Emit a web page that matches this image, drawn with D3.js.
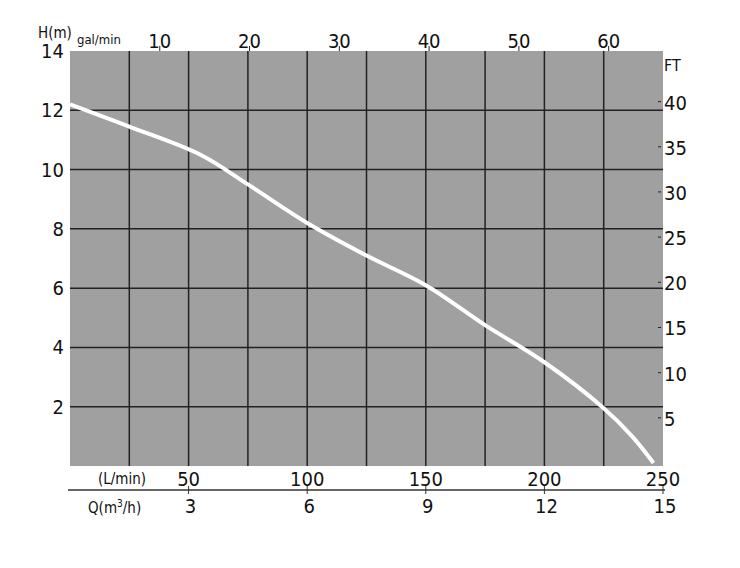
<!DOCTYPE html>
<html><head><meta charset="utf-8">
<script src="https://cdn.jsdelivr.net/npm/d3@7"></script>
<style>body{margin:0;background:#fff}text{font-family:"DejaVu Sans Condensed","DejaVu Sans",sans-serif;fill:#111}</style>
</head><body><svg width="740" height="568"></svg>
<script>
// curve: flow (L/min) vs head (m)
const flow = [0, 25, 55, 75, 100, 125, 150, 175, 200, 225, 237, 246];
const head = [12.2, 11.45, 10.5, 9.5, 8.2, 7.1, 6.1, 4.75, 3.5, 1.95, 1.0, 0.1];
const headTicks = [2, 4, 6, 8, 10, 12, 14];
const ftTicks = [5, 10, 15, 20, 25, 30, 35, 40];
const lminTicks = [50, 100, 150, 200, 250];
const galTicks = [10, 20, 30, 40, 50, 60];
const m3hTicks = [3, 6, 9, 12, 15];

const svg = d3.select('svg');
const x = d3.scaleLinear().domain([0, 250]).range([70, 663]);
const y = d3.scaleLinear().domain([0, 14]).range([466, 51]);

svg.append('rect').attr('x', x(0)).attr('y', y(14))
  .attr('width', x(250) - x(0)).attr('height', y(0) - y(14)).attr('fill', '#a0a0a0');

const g = svg.append('g').attr('stroke', '#222').attr('stroke-width', 1.5);
d3.range(25, 250, 25).forEach(v => g.append('line')
  .attr('x1', x(v)).attr('x2', x(v)).attr('y1', y(14)).attr('y2', y(0)));
headTicks.slice(0, -1).forEach(v => g.append('line')
  .attr('x1', x(0)).attr('x2', x(250)).attr('y1', y(v)).attr('y2', y(v)));

svg.append('path').datum(flow.map((f, i) => [f, head[i]]))
  .attr('fill', 'none').attr('stroke', '#fff').attr('stroke-width', 4)
  .attr('d', d3.line().x(d => x(d[0])).y(d => y(d[1])).curve(d3.curveCatmullRom.alpha(0.5)));

const fs = 20;
headTicks.forEach(v => svg.append('text').attr('x', 64).attr('y', y(v) + 7)
  .attr('text-anchor', 'end').attr('font-size', fs).text(v));
svg.append('text').attr('x', 38).attr('y', 38).attr('font-size', 15).text('H(m)');
svg.append('text').attr('x', 77).attr('y', 44).attr('font-size', 13).text('gal/min');

galTicks.forEach(v => {
  const px = x(v * 3.785);
  svg.append('text').attr('x', px).attr('y', 48).attr('text-anchor', 'middle').attr('font-size', fs).text(v);
  svg.append('line').attr('x1', px).attr('x2', px).attr('y1', 46).attr('y2', 51).attr('stroke', '#222');
});

svg.append('text').attr('x', 664).attr('y', 71).attr('font-size', 16).text('FT');
ftTicks.forEach(v => {
  const py = y(v * 0.3048);
  svg.append('line').attr('x1', 658).attr('x2', 661).attr('y1', py - 3).attr('y2', py - 3).attr('stroke', '#222');
  svg.append('text').attr('x', 664).attr('y', py + 5).attr('font-size', fs).text(v);
});

svg.append('text').attr('x', 122).attr('y', 484).attr('text-anchor', 'middle').attr('font-size', 15).text('(L/min)');
lminTicks.forEach(v => svg.append('text').attr('x', x(v)).attr('y', 486)
  .attr('text-anchor', 'middle').attr('font-size', fs).text(v));
svg.append('line').attr('x1', 68).attr('x2', 665).attr('y1', 490).attr('y2', 490)
  .attr('stroke', '#333').attr('stroke-width', 1.5);
lminTicks.forEach(v => svg.append('line').attr('x1', x(v)).attr('x2', x(v))
  .attr('y1', 486).attr('y2', 494).attr('stroke', '#333'));

const q = svg.append('text').attr('x', 88).attr('y', 513).attr('font-size', 15);
q.append('tspan').text('Q(m');
q.append('tspan').attr('font-size', 10).attr('dy', -6).text('3');
q.append('tspan').attr('dy', 6).text('/h)');
const qx = d3.scaleLinear().domain([0, 15]).range([70, 663]);
m3hTicks.forEach(v => svg.append('text').attr('x', qx(v) + 2).attr('y', 513)
  .attr('text-anchor', 'middle').attr('font-size', fs).text(v));
</script></body></html>
